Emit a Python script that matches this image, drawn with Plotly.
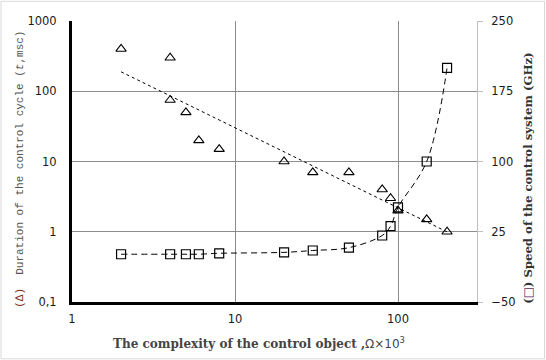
import numpy as np
import plotly.graph_objects as go

# Data
x_tri = [2, 4, 4, 5, 6, 8, 20, 30, 50, 80, 90, 100, 150, 200]
y_tri = [400, 300, 75, 50, 20, 15, 10, 7, 7, 4, 3, 2, 1.5, 1]

x_sq = [2, 4, 5, 6, 8, 20, 30, 50, 80, 90, 100, 150, 200]
y_sq = [1, 1, 1, 1, 2, 3, 5, 8, 21, 31, 51, 100, 200]

left_tickvals = [0.1, 1, 10, 100, 1000]
left_ticktext = ["0,1", "1", "10", "100", "1000"]
right_tickvals = [-50, 25, 100, 175, 250]
x_tickvals = [1, 10, 100]

# Power trendline for the triangles (least squares in log-log space)
b, a = np.polyfit(np.log10(x_tri), np.log10(y_tri), 1)
tx = np.array([min(x_tri), max(x_tri)], dtype=float)
ty = 10 ** (a + b * np.log10(tx))

W, H = 546, 360
L, R, T, B = 72, 477, 20.7, 301.7
pw, ph = R - L, B - T

def px(x):
    return (x - L) / pw

def py(y):
    return (B - y) / ph

fig = go.Figure()

fig.add_trace(go.Scatter(
    x=tx, y=ty, mode="lines", yaxis="y",
    line=dict(color="black", width=1, dash="3px,3px"),
    hoverinfo="skip", showlegend=False))

fig.add_trace(go.Scatter(
    x=x_sq, y=y_sq, mode="lines+markers", yaxis="y2",
    line=dict(color="black", width=1, dash="6px,4px", shape="spline", smoothing=1.0),
    marker=dict(symbol="square-open", size=9, color="black", line=dict(width=1.2)),
    showlegend=False))

fig.add_trace(go.Scatter(
    x=x_tri, y=y_tri, mode="markers", yaxis="y",
    marker=dict(symbol="triangle-up-open", size=9, color="black", line=dict(width=1.1)),
    showlegend=False))

tickfont = dict(family="DejaVu Sans", size=11.5, color="#1a1a1a")

fig.update_layout(
    width=W, height=H,
    margin=dict(l=L, r=W - R, t=T, b=H - B, autoexpand=False),
    paper_bgcolor="white", plot_bgcolor="white",
    xaxis=dict(
        type="log", range=[0, (R - L) / 163.0],
        tickvals=x_tickvals, ticktext=[str(v) for v in x_tickvals],
        showgrid=True, gridcolor="#8c8c8c", gridwidth=1,
        showline=True, linecolor="black", linewidth=3,
        ticks="", tickfont=tickfont, ticklabelstandoff=4, zeroline=False,
    ),
    yaxis=dict(
        type="log", range=[-1, 3],
        tickvals=left_tickvals, ticktext=left_ticktext,
        showgrid=True, gridcolor="#8c8c8c", gridwidth=1,
        showline=True, linecolor="black", linewidth=3,
        ticks="", tickfont=tickfont, ticklabelstandoff=10, zeroline=False,
    ),
    yaxis2=dict(
        overlaying="y", side="right", range=[-50, 250],
        tickvals=right_tickvals,
        showgrid=False, zeroline=False,
        showline=True, linecolor="#bfbfbf", linewidth=1,
        ticks="outside", ticklen=5, tickcolor="#bfbfbf",
        tickfont=tickfont, ticklabelstandoff=6,
    ),
    shapes=[dict(type="rect", xref="paper", yref="paper",
                 x0=px(1), x1=px(544.5), y0=py(358.5), y1=py(1),
                 line=dict(color="#d9d9d9", width=1), layer="below")],
    annotations=[
        dict(xref="paper", yref="paper", x=px(20), y=py(169.5),
             text="<span style='color:#7a2a10'>(∆)</span>  Duration of the control cycle (<i>t</i>,msc)",
             textangle=-90, showarrow=False, xanchor="center", yanchor="middle",
             font=dict(family="Liberation Mono", size=11, color="#555555")),
        dict(xref="paper", yref="paper", x=px(259), y=py(343),
             text="<b>The complexity of the control object ,</b><span style='font-family:DejaVu Sans'>Ω×10<sup>3</sup></span>",
             showarrow=False, xanchor="center", yanchor="middle",
             font=dict(family="DejaVu Serif", size=12, color="#444444")),
        dict(xref="paper", yref="paper", x=px(528), y=py(178.5),
             text="<b>(<span style='color:#5a2a5a'>□</span>) Speed of the control system (GHz)</b>",
             textangle=-90, showarrow=False, xanchor="center", yanchor="middle",
             font=dict(family="DejaVu Serif", size=11.7, color="#333333")),
    ],
)

fig.write_html("out.html", config={"displayModeBar": False},
               post_script="document.body.style.margin='0';document.body.style.padding='0';")
